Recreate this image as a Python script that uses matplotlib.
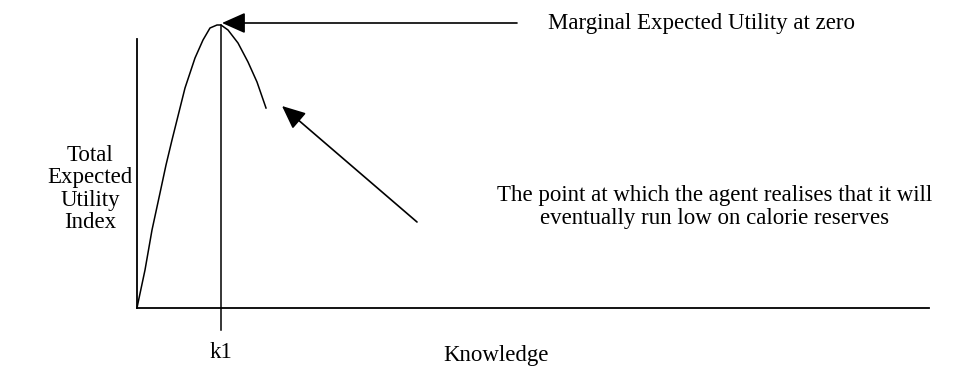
import matplotlib.pyplot as plt

# curve (knowledge, utility) with the origin at the axes corner
knowledge = [0, 1, 8, 15, 23, 29, 35, 48, 58, 66, 73, 80, 84, 91, 101, 111, 120, 129]
utility = [0, 5, 38, 78, 115, 143, 168, 220, 250, 268, 280, 283, 283, 278, 265, 246, 226, 200]

k1 = 84
x_axis_end = 792
y_axis_top = 269
k1_bottom, k1_top = -22, 283

peak_arrow_tail = (380, 285)
peak_arrow_tip = (85, 285)
point_arrow_tail = (280, 86)
point_arrow_tip = (145, 202)

plt.rcParams['font.family'] = ['Liberation Serif', 'DejaVu Serif']

fig = plt.figure(figsize=(9.64, 3.70), dpi=100)
ax = fig.add_axes([0, 0, 1, 1])
ax.set_xlim(-137, 827)
ax.set_ylim(-62, 308)
ax.axis('off')

# axes
ax.plot([0, 0], [0, y_axis_top], color='black', lw=1.3)
ax.plot([0, x_axis_end], [0, 0], color='black', lw=1.3)
ax.plot([k1, k1], [k1_bottom, k1_top], color='black', lw=1.1)

# total expected utility curve
ax.plot(knowledge, utility, color='black', lw=1.1, solid_joinstyle='round')

arrow = dict(arrowstyle='-|>,head_length=0.72,head_width=0.32', mutation_scale=20,
             color='black', lw=1.2, shrinkA=0, shrinkB=0)
ax.annotate('', xy=peak_arrow_tip, xytext=peak_arrow_tail, arrowprops=arrow)
ax.annotate('', xy=point_arrow_tip, xytext=point_arrow_tail, arrowprops=arrow)

fs = 16.5
ax.text(411, 285, 'Marginal Expected Utility at zero', fontsize=fs,
        ha='left', va='center')
ax.text(-47, 119, 'Total\nExpected\nUtility\nIndex', fontsize=fs,
        ha='center', va='center', linespacing=1.1)
ax.text(578, 101, 'The point at which the agent realises that it will\n'
        'eventually run low on calorie reserves', fontsize=fs,
        ha='center', va='center', linespacing=1.15)
ax.text(k1, -45, 'k1', fontsize=fs, ha='center', va='center')
ax.text(359, -48, 'Knowledge', fontsize=fs, ha='center', va='center')

fig.savefig('out.png', dpi=100)
